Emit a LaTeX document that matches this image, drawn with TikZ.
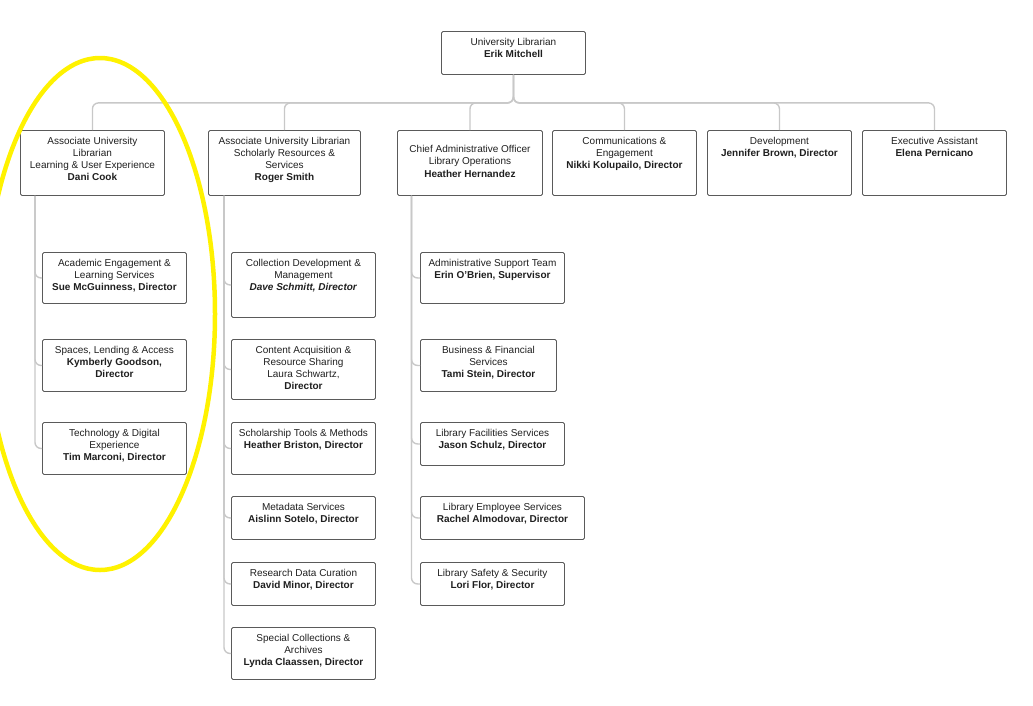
\documentclass[tikz,border=0pt]{standalone}
\usepackage{fontspec}
\setmainfont{Liberation Sans}

\definecolor{linkgray}{RGB}{200,200,200}
\definecolor{boxgray}{RGB}{90,90,90}
\definecolor{markyellow}{RGB}{255,242,0}

\tikzset{
  unit/.style={draw=boxgray, line width=0.9pt, rounded corners=1.5pt, inner sep=0pt,
    anchor=north west, text=black!88, font=\fontsize{10}{12.3}\selectfont},
  link/.style={draw=linkgray, line width=1.4pt, rounded corners=6pt},
}

% 方框: [上边距] 名称, 左, 上, 宽, 高, 文字
\newcommand{\orgbox}[7][6.3pt]{%
  \node[unit] (#2) at (#3,#4) {\parbox[t][#6pt][t]{#5pt}{\centering\vspace*{#1}#7}};}

\begin{document}
\begin{tikzpicture}[x=1pt, y=-1pt]
    \useasboundingbox (0,0) rectangle (1033,705);

    % 馆长
    \orgbox{ul}{441}{31}{144}{43}{University Librarian\\ \textbf{Erik Mitchell}}

    % 第一层
    \orgbox{aulue}{20}{130}{144}{65}{Associate University\\ Librarian\\ Learning \& User Experience\\ \textbf{Dani Cook}}
    \orgbox{aulsrs}{208}{130}{152}{65}{Associate University Librarian\\ Scholarly Resources \&\\ Services\\ \textbf{Roger Smith}}
    \orgbox[14.8pt]{cao}{397}{130}{145}{65}{Chief Administrative Officer\\ Library Operations\\ \textbf{Heather Hernandez}}
    \orgbox{comm}{552}{130}{144}{65}{Communications \&\\ Engagement\\ \textbf{Nikki Kolupailo, Director}}
    \orgbox{dev}{707}{130}{144}{65}{Development\\ \textbf{Jennifer Brown, Director}}
    \orgbox{exec}{862}{130}{144}{65}{Executive Assistant\\ \textbf{Elena Pernicano}}

    % 学习与用户体验
    \orgbox{ae}{42}{252}{144}{51}{Academic Engagement \&\\ Learning Services\\ \textbf{Sue McGuinness, Director}}
    \orgbox{sla}{42}{339}{144}{52}{Spaces, Lending \& Access\\ \textbf{Kymberly Goodson,}\\ \textbf{Director}}
    \orgbox{tde}{42}{422}{144}{52}{Technology \& Digital\\ Experience\\ \textbf{Tim Marconi, Director}}

    % 学术资源与服务
    \orgbox{cdm}{231}{252}{144}{65}{Collection Development \&\\ Management\\ \textbf{\textit{Dave Schmitt, Director}}}
    \orgbox{cars}{231}{339}{144}{60}{Content Acquisition \&\\ Resource Sharing\\ Laura Schwartz,\\ \textbf{Director}}
    \orgbox{stm}{231}{422}{144}{52}{Scholarship Tools \& Methods\\ \textbf{Heather Briston, Director}}
    \orgbox{ms}{231}{496}{144}{43}{Metadata Services\\ \textbf{Aislinn Sotelo, Director}}
    \orgbox{rdc}{231}{562}{144}{43}{Research Data Curation\\ \textbf{David Minor, Director}}
    \orgbox{sca}{231}{627}{144}{52}{Special Collections \&\\ Archives\\ \textbf{Lynda Claassen, Director}}

    % 图书馆运营
    \orgbox{ast}{420}{252}{144}{51}{Administrative Support Team\\ \textbf{Erin O’Brien, Supervisor}}
    \orgbox{bfs}{420}{339}{136}{52}{Business \& Financial\\ Services\\ \textbf{Tami Stein, Director}}
    \orgbox{lfs}{420}{422}{144}{43}{Library Facilities Services\\ \textbf{Jason Schulz, Director}}
    \orgbox{les}{420}{496}{164}{43}{Library Employee Services\\ \textbf{Rachel Almodovar, Director}}
    \orgbox{lss}{420}{562}{144}{43}{Library Safety \& Security\\ \textbf{Lori Flor, Director}}

    % 连线
    \foreach \c in {aulue, aulsrs, cao, comm, dev, exec} {
        \draw[link] (ul.south) -- ++(0,28) -| (\c.north);
    }
    \foreach \c in {ae, sla, tde} {
        \draw[link] ([xshift=15pt]aulue.south west) |- (\c.west);
    }
    \foreach \c in {cdm, cars, stm, ms, rdc, sca} {
        \draw[link] ([xshift=16pt]aulsrs.south west) |- (\c.west);
    }
    \foreach \c in {ast, bfs, lfs, les, lss} {
        \draw[link] ([xshift=14.5pt]cao.south west) |- (\c.west);
    }

    % 黄色椭圆
    \draw[markyellow, line width=4.5pt] (100,314) ellipse [x radius=115pt, y radius=256pt];
\end{tikzpicture}
\end{document}
